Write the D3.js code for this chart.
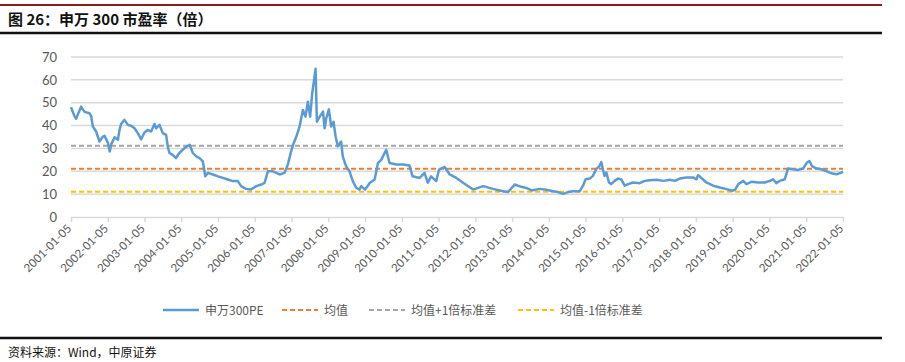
<!DOCTYPE html>
<html lang="zh">
<head>
  <meta charset="utf-8">
  <title>申万300市盈率</title>
  <style>
    body {
      margin:0;
      background:#fff;
    }
    #chart text {
      fill:#595959;
    }
    .tick text {
      font-family:Lato, "Open Sans", sans-serif;
    }
  </style>
</head>
<body>
  <div id="chart"></div>
  <script src="https://cdn.jsdelivr.net/npm/d3@7/dist/d3.min.js"></script>
  <script>
    // 申万300 PE
    var dates = [
      "2001-01-05","2001-02-10","2001-02-25","2001-04-15","2001-05-20","2001-07-08","2001-07-25","2001-08-10",
      "2001-09-12","2001-10-15","2001-11-18","2001-12-05","2002-01-08","2002-01-25","2002-02-10","2002-03-14",
      "2002-04-16","2002-05-02","2002-05-18","2002-06-20","2002-07-24","2002-08-26","2002-09-28","2002-10-31",
      "2002-12-03","2003-01-05","2003-02-06","2003-03-12","2003-04-14","2003-05-01","2003-06-03","2003-07-06",
      "2003-08-08","2003-08-24","2003-09-10","2003-10-12","2003-11-14","2003-12-17","2004-02-06","2004-03-28",
      "2004-04-30","2004-06-02","2004-07-05","2004-08-07","2004-08-31","2004-09-27","2004-11-15","2005-01-05",
      "2005-02-22","2005-04-12","2005-06-01","2005-07-20","2005-08-22","2005-10-10","2005-11-28","2006-01-20",
      "2006-03-10","2006-04-12","2006-05-15","2006-07-03","2006-08-06","2006-09-08","2006-10-27","2006-11-29",
      "2007-01-05","2007-01-20","2007-02-22","2007-03-26","2007-04-28","2007-05-24","2007-06-16","2007-07-09",
      "2007-07-29","2007-08-14","2007-09-01","2007-09-14","2007-10-12","2007-11-14","2007-11-30","2007-12-16",
      "2008-01-11","2008-02-03","2008-02-26","2008-03-18","2008-04-09","2008-05-12","2008-05-28","2008-06-30",
      "2008-08-03","2008-09-05","2008-10-08","2008-11-10","2008-11-28","2009-01-05","2009-02-22","2009-04-10",
      "2009-05-12","2009-06-14","2009-08-03","2009-09-05","2009-11-10","2010-01-15","2010-03-22","2010-04-22",
      "2010-07-01","2010-08-18","2010-09-20","2010-10-22","2010-12-12","2011-01-10","2011-03-07","2011-04-25",
      "2011-07-01","2011-09-05","2011-12-14","2012-03-22","2012-06-28","2012-10-05","2012-11-24","2013-01-30",
      "2013-04-05","2013-05-26","2013-07-16","2013-10-05","2013-12-10","2014-02-15","2014-04-05","2014-05-26",
      "2014-07-14","2014-09-02","2014-11-08","2014-12-10","2015-01-05","2015-02-15","2015-03-18","2015-04-20",
      "2015-05-22","2015-06-10","2015-06-25","2015-07-12","2015-07-30","2015-08-25","2015-09-16","2015-10-20",
      "2015-11-22","2015-12-25","2016-01-28","2016-03-02","2016-04-20","2016-06-25","2016-08-14","2016-10-03",
      "2016-12-10","2017-02-15","2017-04-20","2017-06-10","2017-07-28","2017-10-02","2017-12-07","2018-01-10",
      "2018-01-26","2018-03-14","2018-04-18","2018-06-25","2018-08-30","2018-11-05","2018-12-28","2019-01-28",
      "2019-03-02","2019-04-20","2019-05-22","2019-07-10","2019-09-14","2019-11-18","2020-01-08","2020-02-10",
      "2020-03-14","2020-04-16","2020-06-05","2020-07-08","2020-08-28","2020-10-16","2020-12-05","2021-01-10",
      "2021-02-05","2021-03-02","2021-04-18","2021-06-05","2021-07-24","2021-09-12","2021-11-02","2021-12-20",
      "2022-01-05"
    ];
    var pe = [
      48.0,44.0,43.0,48.3,46.0,45.4,44.0,39.6,
      37.4,33.0,35.2,35.5,32.3,28.7,32.0,34.9,
      33.8,38.1,40.7,42.5,40.3,39.9,38.8,36.7,
      34.0,37.0,38.1,37.4,40.7,38.8,40.3,36.7,
      35.9,30.9,28.0,27.2,25.8,28.0,30.1,31.6,
      28.0,26.5,25.8,24.3,17.8,19.3,18.6,17.8,
      17.1,16.4,15.7,15.7,13.5,12.3,12.0,13.5,
      14.2,14.9,20.0,20.0,19.3,18.6,19.3,22.9,
      29.4,31.6,35.2,39.6,46.8,43.9,50.4,43.9,
      54.0,59.0,64.9,41.7,43.9,46.1,38.8,43.2,
      47.1,39.6,41.7,35.2,30.9,33.0,26.5,22.2,
      20.0,15.7,12.8,12.0,13.5,12.0,15.0,16.4,
      23.6,25.0,29.4,23.6,23.0,23.0,22.5,17.8,
      17.1,19.3,15.0,17.8,15.7,20.7,21.9,18.6,
      17.1,15.0,12.0,13.5,12.3,11.3,10.9,14.2,
      13.2,12.7,11.6,12.3,11.9,11.3,10.9,10.1,
      10.9,11.3,11.3,13.7,16.5,16.8,18.0,20.9,
      22.3,24.0,20.9,18.0,19.4,15.1,14.4,15.8,
      16.8,16.5,13.7,14.4,15.1,14.8,15.8,16.1,
      16.3,15.8,16.3,15.8,16.8,17.3,17.3,16.5,
      18.3,16.5,15.1,13.7,12.9,12.2,11.5,11.9,
      14.4,15.8,14.4,15.4,15.1,15.1,15.8,16.5,
      14.8,15.8,16.5,21.2,20.9,20.6,21.2,23.7,
      24.5,22.3,21.2,20.9,20.1,19.1,18.7,19.4,
      19.9
    ];
    var peMean = 21.1;
    var peUpper = 31.2;   // 均值+1倍标准差
    var peLower = 11.0;   // 均值-1倍标准差
    var yTicks = [0,10,20,30,40,50,60,70];
    var tickYears = d3.range(2001, 2023);
    var legendNames = ["申万300PE","均值","均值+1倍标准差","均值-1倍标准差"];
    var colors = ["#5b9bd5","#ed7d31","#a5a5a5","#ffc000"];

    var W = 905, H = 362;
    var m = {left:71, right:62, top:57, bottom:145};

    var parse = d3.timeParse("%Y-%m-%d");
    var fmt = d3.timeFormat("%Y-%m-%d");
    var series = dates.map(function(d, i){ return {date: parse(d), value: pe[i]}; });

    var svg = d3.select("#chart").append("svg")
        .attr("width", W)
        .attr("height", H);

    // frame lines
    svg.append("line").attr("x1",0).attr("x2",882).attr("y1",5).attr("y2",5)
        .attr("stroke","#8e1b1b").attr("stroke-width",2);
    svg.append("line").attr("x1",0).attr("x2",882).attr("y1",33).attr("y2",33)
        .attr("stroke","#111").attr("stroke-width",2.5);
    svg.append("line").attr("x1",0).attr("x2",882).attr("y1",338).attr("y2",338)
        .attr("stroke","#111").attr("stroke-width",2.5);

    svg.append("text")
        .attr("x",8).attr("y",25)
        .style("font-family","'Noto Sans CJK SC', sans-serif")
        .style("font-size","15px")
        .style("font-weight","700")
        .style("fill","#111")
        .text("图 26：申万 300 市盈率（倍）");

    svg.append("text")
        .attr("x",8).attr("y",357)
        .style("font-family","'Noto Sans CJK SC', sans-serif")
        .style("font-size","12px")
        .style("fill","#111")
        .text("资料来源：Wind，中原证券");

    var x = d3.scaleTime()
        .domain([parse("2001-01-05"), parse("2022-01-05")])
        .range([m.left, W - m.right]);
    var y = d3.scaleLinear()
        .domain([0, 70])
        .range([H - m.bottom, m.top]);

    // gridlines
    svg.append("g")
        .selectAll("line")
        .data(yTicks.slice(1))
        .enter().append("line")
        .attr("x1", m.left).attr("x2", W - m.right)
        .attr("y1", function(d){ return y(d); })
        .attr("y2", function(d){ return y(d); })
        .attr("stroke","#d9d9d9")
        .attr("stroke-width",1.5);

    // y axis labels
    var yAxis = svg.append("g")
        .attr("transform","translate(" + m.left + ",0)")
        .call(d3.axisLeft(y).tickValues(yTicks).tickSize(0).tickPadding(14));
    yAxis.select(".domain").remove();
    yAxis.selectAll("text").style("font-size","13px");

    // x axis
    var tickDates = tickYears.map(function(yr){ return parse(yr + "-01-05"); });
    var xAxis = svg.append("g")
        .attr("transform","translate(0," + y(0) + ")")
        .call(d3.axisBottom(x).tickValues(tickDates).tickFormat(fmt).tickSize(5).tickSizeOuter(0));
    xAxis.select(".domain").attr("stroke","#d9d9d9").attr("stroke-width",1.5);
    xAxis.selectAll(".tick line").attr("stroke","#d9d9d9").attr("stroke-width",1.5);
    xAxis.selectAll("text")
        .style("font-size","11.5px")
        .style("text-anchor","end")
        .attr("dx","-0.7em")
        .attr("dy","0.1em")
        .attr("transform","rotate(-45)");

    // reference lines
    var refs = [peMean, peUpper, peLower];
    svg.append("g")
        .selectAll("line")
        .data(refs)
        .enter().append("line")
        .attr("x1", m.left).attr("x2", W - m.right)
        .attr("y1", function(d){ return y(d); })
        .attr("y2", function(d){ return y(d); })
        .attr("stroke", function(d, i){ return colors[i + 1]; })
        .attr("stroke-width",2)
        .attr("stroke-dasharray","5,3");

    // PE line
    var line = d3.line()
        .x(function(d){ return x(d.date); })
        .y(function(d){ return y(d.value); });
    svg.append("path")
        .datum(series)
        .attr("d", line)
        .attr("fill","none")
        .attr("stroke", colors[0])
        .attr("stroke-width",2.5)
        .attr("stroke-linejoin","round");

    // legend
    var legendX = [163, 282, 369, 518];
    var legend = svg.append("g").selectAll("g")
        .data(legendNames)
        .enter().append("g")
        .attr("transform", function(d, i){ return "translate(" + legendX[i] + ",310)"; });
    legend.append("line")
        .attr("x1",0).attr("x2",36)
        .attr("stroke", function(d, i){ return colors[i]; })
        .attr("stroke-width", function(d, i){ return i == 0 ? 2.5 : 2; })
        .attr("stroke-dasharray", function(d, i){ return i == 0 ? null : "5,3"; });
    legend.append("text")
        .attr("x",42).attr("y",4.5)
        .style("font-family","'Noto Sans CJK SC', sans-serif")
        .style("font-size","12px")
        .text(function(d){ return d; });
  </script>
</body>
</html>
